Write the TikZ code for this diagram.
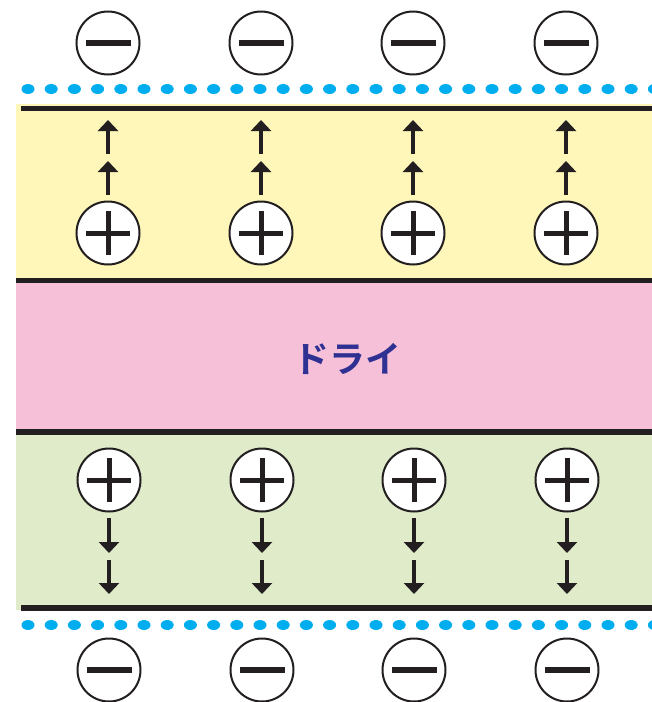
\documentclass[tikz,border=0pt]{standalone}
\usepackage{fontspec}
\newfontfamily\cjk{Noto Sans CJK JP}[BoldFont={Noto Sans CJK JP Bold}]
\usetikzlibrary{arrows.meta}
\definecolor{bandyellow}{HTML}{FEF7B9}
\definecolor{bandpink}{HTML}{F6C0D8}
\definecolor{bandgreen}{HTML}{DFEBC9}
\definecolor{dotblue}{HTML}{00AEEF}
\definecolor{inkblack}{HTML}{231F20}
\definecolor{textblue}{HTML}{2E3192}
\begin{document}
\begin{tikzpicture}[x=1pt,y=-1pt,
  charge/.style={circle,draw=inkblack,line width=2pt,fill=white,minimum size=63pt,inner sep=0pt},
  layerline/.style={draw=inkblack,line width=5.5pt},
  dotmark/.style={fill=dotblue},
  drift/.style={draw=inkblack,line width=3.5pt,-{Triangle[width=20pt,length=11pt]}}]
\useasboundingbox (0,0) rectangle (652,702);
\clip (0,0) rectangle (652,702);
% bands
\fill[bandyellow] (16,104) rectangle (652,281);
\fill[bandpink] (16,281) rectangle (652,432);
\fill[bandgreen] (16,432) rectangle (652,610);
\draw[layerline] (21,108.5) -- (652,108.5);
\draw[layerline] (16,280.5) -- (652,280.5);
\draw[layerline] (16,432) -- (652,432);
\draw[layerline] (21,608) -- (652,608);
% dotted lines
\foreach \k in {0,...,27} {
  \fill[dotmark] (28+23.2*\k,89) ellipse [x radius=6.5pt, y radius=5pt];
  \fill[dotmark] (28+23.2*\k,625) ellipse [x radius=6.5pt, y radius=5pt];
}
% top: minus charges, plus charges, upward drift
\foreach \i/\x in {1/108,2/261,3/413,4/566} {
  \node[charge] (tm\i) at (\x,43) {};
  \fill[inkblack] (\x-22.5,40) rectangle (\x+22.5,46);
  \node[charge] (tp\i) at (\x,233) {};
  \fill[inkblack] (\x-22,230.5) rectangle (\x+22,235.5);
  \fill[inkblack] (\x-2.5,211) rectangle (\x+2.5,255);
  \coordinate (ta\i) at (\x,195);
  \coordinate (tb\i) at (\x,161);
  \coordinate (tc\i) at (\x,154);
  \coordinate (td\i) at (\x,120);
  \draw[drift] (ta\i) -- (tb\i);
  \draw[drift] (tc\i) -- (td\i);
}
% bottom: plus charges, downward drift, minus charges
\foreach \i/\x in {1/109,2/262,3/414,4/567} {
  \node[charge] (bp\i) at (\x,480) {};
  \fill[inkblack] (\x-22,477.5) rectangle (\x+22,482.5);
  \fill[inkblack] (\x-2.5,458) rectangle (\x+2.5,502);
  \node[charge] (bm\i) at (\x,670) {};
  \fill[inkblack] (\x-22.5,667) rectangle (\x+22.5,673);
  \coordinate (ba\i) at (\x,518);
  \coordinate (bb\i) at (\x,553);
  \coordinate (bc\i) at (\x,560);
  \coordinate (bd\i) at (\x,594);
  \draw[drift] (ba\i) -- (bb\i);
  \draw[drift] (bc\i) -- (bd\i);
}
\node[text=textblue,font=\cjk\bfseries\fontsize{36}{36}\selectfont,inner sep=0pt] (dry) at (347,359) {ドライ};
\end{tikzpicture}
\end{document}
